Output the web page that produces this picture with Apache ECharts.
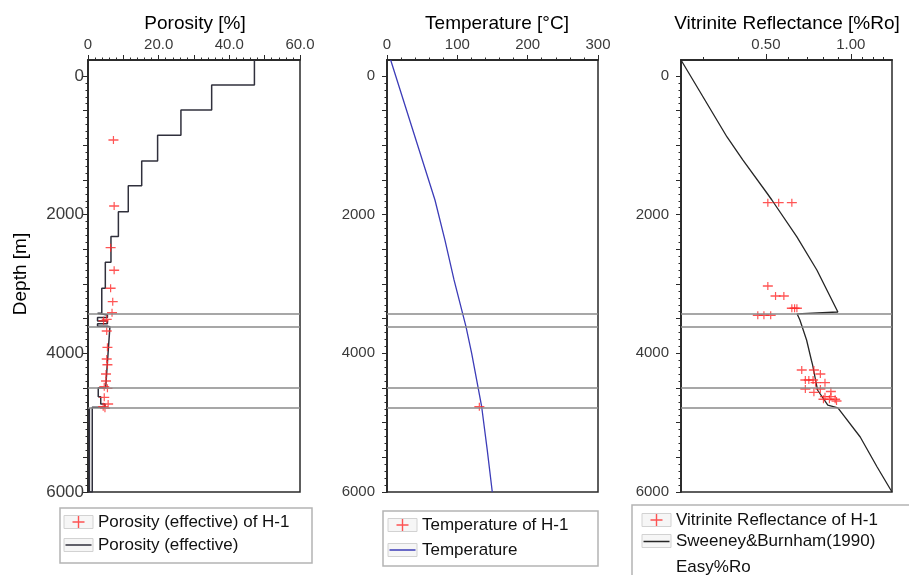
<!DOCTYPE html>
<html><head><meta charset="utf-8">
<script src="https://cdn.jsdelivr.net/npm/echarts@6/dist/echarts.min.js"></script>
<style>html,body{margin:0;padding:0;background:#fff}#c{width:909px;height:575px}</style>
</head><body><div id="c"></div><script>
// ---------- data ----------
const DEPTH_RANGE = [-230, 6000];
const DEPTH_LABELS = [0, 2000, 4000, 6000];
const BOUNDARIES = [3423, 3616, 4496, 4779];

const POR_CURVE_DEPTH = [-230,130,130,490,490,856,856,1226,1226,1582,1582,1957,1957,2317,2317,2687,2687,3062,3062,3423,3423,3447,3447,3485,3485,3533,3533,3572,3572,3610,3610,3616,3616,4496,4496,4625,4625,4730,4730,4779,4779,6000,6000,4790];
const POR_CURVE_VALUE = [47.1,47.1,35.0,35.0,26.3,26.3,19.7,19.7,15.2,15.2,11.4,11.4,8.6,8.6,6.5,6.5,4.9,4.9,3.9,3.9,2.7,2.7,5.5,5.5,2.7,2.7,5.5,5.5,2.7,2.7,5.5,5.5,6.2,5.0,2.9,2.9,3.6,3.6,4.8,4.8,1.2,1.2,0.4,0.4];
const POR_OBS_DEPTH = [923,1875,2476,2803,3062,3255,3414,3510,3530,3678,3914,4082,4164,4298,4399,4483,4505,4635,4731,4770,4793];
const POR_OBS_VALUE = [7.2,7.4,6.4,7.4,6.4,7.0,6.8,5.3,4.4,5.3,5.5,5.3,5.5,5.1,5.1,4.6,5.5,4.6,5.7,4.3,4.8];
const POR_LABELS = [0, 20, 40, 60];

const TEMP_CURVE_DEPTH = [-230,0,1789,2365,2942,3616,4000,4770,5400,6000];
const TEMP_CURVE_VALUE = [5.2,12.4,68.2,82.3,95.3,112.3,120.4,134.6,142.6,149.7];
const TEMP_OBS_DEPTH = [4770];
const TEMP_OBS_VALUE = [131.3];
const TEMP_LABELS = [0, 100, 200, 300];

const VR_CURVE_DEPTH = [-230,880,1212,1688,1789,2322,2798,3404,3430,3519,3808,4100,4168,4529,4746,4788,5207,5640,6000];
const VR_CURVE_VALUE = [0.25,0.364,0.414,0.504,0.525,0.644,0.758,0.90,0.645,0.66,0.697,0.725,0.732,0.762,0.829,0.90,1.08,1.24,1.40];
const VR_OBS_DEPTH = [1827,1827,1827,3029,3173,3173,3351,3351,3351,3452,3452,3452,4240,4240,4298,4385,4385,4385,4423,4423,4515,4515,4563,4550,4625,4625,4663,4663,4663,4688];
const VR_OBS_VALUE = [0.508,0.555,0.618,0.508,0.541,0.579,0.618,0.632,0.644,0.468,0.492,0.52,0.67,0.74,0.78,0.69,0.71,0.735,0.75,0.81,0.69,0.78,0.74,0.85,0.81,0.85,0.80,0.84,0.88,0.89];
const VR_RANGE = [0.25, 1.4];
const VR_TICKS = [0.3,0.4,0.5,0.6,0.7,0.8,0.9,1.0,1.1,1.2,1.3];
const VR_LABELS = [0.5, 1.0];

const NAMES = {
  porObs: 'Porosity (effective) of H-1', por: 'Porosity (effective)',
  tObs: 'Temperature of H-1', t: 'Temperature',
  vrObs: 'Vitrinite Reflectance of H-1', vr: 'Sweeney&Burnham(1990) Easy%Ro'
};

// ---------- helpers ----------
function steps(a, b, s) { const r = []; for (let v = a; v <= b + 1e-9; v += s) r.push(+v.toFixed(6)); return r; }
function zip(vals, depths) { return vals.map((v, i) => [v, depths[i]]); }
const FONT = 'Liberation Sans, Arial, sans-serif';
const AX = '#2a2a2a';
const PLUS = 'path://M0,0L0,0Z M10,8L10,8Z M0,3.3H10V4.7H0Z M4.4,0H5.6V8H4.4Z';
const PLUS_ICON = 'path://M0,0L0,0Z M29,13L29,13Z M8.5,5.8H20.5V7.2H8.5Z M13.8,0.5H15.2V12.5H13.8Z';
const LINE_ICON = 'path://M0,0L0,0Z M29,13L29,13Z M1.5,5.8H27.5V7.3H1.5Z';

const gridBoxes = [[88, 212], [387, 211], [681, 211]];
const grid = gridBoxes.map(g => ({ left: g[0], width: g[1], top: 60, height: 432, show: true, borderColor: AX, borderWidth: 1.5, backgroundColor: '#fff' }));

function topAxis(gi, min, max, tickVals, tickLen, labelVals, fmt) {
  return {
    type: 'value', gridIndex: gi, position: 'top', min: min, max: max,
    axisLine: { show: true, onZero: false, lineStyle: { color: AX, width: 1.5 } },
    axisTick: { show: true, inside: false, length: tickLen, customValues: tickVals, lineStyle: { color: AX, width: 1 } },
    axisLabel: labelVals ? { show: true, customValues: labelVals, formatter: fmt, margin: 8, color: '#3a3a3a', fontSize: 15, fontFamily: FONT } : { show: false },
    splitLine: { show: false }, minorTick: { show: false }
  };
}
function leftAxis(gi, tickVals, tickLen, labelVals, fs, margin) {
  return {
    type: 'value', gridIndex: gi, position: 'left', offset: 0, inverse: true, min: DEPTH_RANGE[0], max: DEPTH_RANGE[1],
    axisLine: { show: true, onZero: false, lineStyle: { color: AX, width: 1.5 } },
    axisTick: { show: true, inside: false, length: tickLen, customValues: tickVals, lineStyle: { color: AX, width: 1 } },
    axisLabel: labelVals ? { show: true, customValues: labelVals, formatter: v => String(v), margin: margin, color: '#3a3a3a', fontSize: fs, fontFamily: FONT } : { show: false },
    splitLine: { show: false }, minorTick: { show: false }
  };
}
const depthMinor = steps(0, 6000, 100), depthMid = steps(0, 6000, 500);
const fmt1 = v => v === 0 ? '0' : v.toFixed(1);
const vrLog = v => Math.log10(v);

const xAxis = [
  topAxis(0, 0, 60, steps(0, 60, 2), 2.5),
  topAxis(0, 0, 60, steps(0, 60, 10), 5, POR_LABELS, fmt1),
  topAxis(1, 0, 300, steps(0, 300, 20), 2.5),
  topAxis(1, 0, 300, TEMP_LABELS, 5, TEMP_LABELS, v => String(v)),
  { type: 'log', gridIndex: 2, min: VR_RANGE[0], max: VR_RANGE[1], logBase: 10, show: false, splitLine: { show: false } },
  topAxis(2, vrLog(VR_RANGE[0]), vrLog(VR_RANGE[1]), VR_TICKS.map(vrLog), 3),
  topAxis(2, vrLog(VR_RANGE[0]), vrLog(VR_RANGE[1]), VR_LABELS.map(vrLog), 6, VR_LABELS.map(vrLog), v => Math.pow(10, v).toFixed(2))
];
const yAxis = [
  leftAxis(0, depthMinor, 2.5), leftAxis(0, depthMid, 5, DEPTH_LABELS, 17, 4),
  leftAxis(1, depthMinor, 2.5), leftAxis(1, depthMid, 5, DEPTH_LABELS, 15, 12),
  leftAxis(2, depthMinor, 2.5), leftAxis(2, depthMid, 5, DEPTH_LABELS, 15, 12)
];

const bounds = {
  silent: true, symbol: ['none', 'none'], label: { show: false },
  lineStyle: { color: '#8a8a8a', width: 1.5, type: 'solid' },
  data: BOUNDARIES.map(d => ({ yAxis: d })), animation: false
};
function lineS(name, xi, yi, data, color, w) {
  return { name: name, type: 'line', xAxisIndex: xi, yAxisIndex: yi, data: data, symbol: 'none', showSymbol: false,
    color: color, lineStyle: { color: color, width: w }, itemStyle: { color: color }, markLine: bounds, z: 3 };
}
function scatS(name, xi, yi, data) {
  return { name: name, type: 'scatter', xAxisIndex: xi, yAxisIndex: yi, data: data, symbol: PLUS, symbolSize: [10, 8],
    color: '#ff2a2a', itemStyle: { color: '#ff2a2a' }, z: 4 };
}
const series = [
  lineS(NAMES.por, 1, 1, zip(POR_CURVE_VALUE, POR_CURVE_DEPTH), '#30303c', 1.5),
  scatS(NAMES.porObs, 1, 1, zip(POR_OBS_VALUE, POR_OBS_DEPTH)),
  lineS(NAMES.t, 3, 3, zip(TEMP_CURVE_VALUE, TEMP_CURVE_DEPTH), '#3c3cb8', 1.3),
  scatS(NAMES.tObs, 3, 3, zip(TEMP_OBS_VALUE, TEMP_OBS_DEPTH)),
  lineS(NAMES.vr, 4, 5, zip(VR_CURVE_VALUE, VR_CURVE_DEPTH), '#262626', 1.3),
  scatS(NAMES.vrObs, 4, 5, zip(VR_OBS_VALUE, VR_OBS_DEPTH))
];

function leg(name, icon, x, rowY, extra) {
  const l = {
    show: true, left: x, top: rowY - 8.5, padding: 0, itemWidth: 29, itemHeight: 13, itemGap: 0,
    selectedMode: false, data: [{ name: name, icon: icon }],
    itemStyle: { borderWidth: 0 }, lineStyle: { width: 0 },
    textStyle: { fontSize: 17, fontFamily: FONT, color: '#111' }, z: 10
  };
  return Object.assign(l, extra || {});
}
const legend = [
  leg(NAMES.porObs, PLUS_ICON, 64, 522), leg(NAMES.por, LINE_ICON, 64, 545),
  leg(NAMES.tObs, PLUS_ICON, 388, 525), leg(NAMES.t, LINE_ICON, 388, 550),
  leg(NAMES.vrObs, PLUS_ICON, 642, 520),
  leg(NAMES.vr, LINE_ICON, 642, 541, {
    top: 541 - 34,
    formatter: () => '{s| }\n{a|Sweeney&Burnham(1990)}\n{a|Easy%Ro}',
    textStyle: { fontSize: 17, fontFamily: FONT, color: '#111',
      rich: { s: { fontSize: 17, fontFamily: FONT, lineHeight: 26 }, a: { fontSize: 17, fontFamily: FONT, color: '#111', lineHeight: 26 } } }
  })
];

function txt(t, x, y, fs, rot) {
  return { type: 'text', x: x, y: y, rotation: rot || 0, z: 5,
    style: { text: t, fontSize: fs, fontFamily: FONT, fill: '#000', align: 'center', verticalAlign: 'middle', textAlign: 'center', textVerticalAlign: 'middle' } };
}
function frame(x, y, w, h) {
  return { type: 'rect', shape: { x: x, y: y, width: w, height: h }, z: 1,
    style: { fill: '#fff', stroke: '#b4b4b4', lineWidth: 1.5 } };
}
function iconFrame(x, cy) {
  return { type: 'rect', shape: { x: x, y: cy - 6.5, width: 29, height: 13 }, z: 2,
    style: { fill: '#f6f6f6', stroke: '#d2d2d2', lineWidth: 1 } };
}
const graphic = [
  frame(60, 508, 252, 55), frame(383, 511, 215, 55), frame(632, 505, 280, 80),
  iconFrame(64, 522), iconFrame(64, 545), iconFrame(388, 525), iconFrame(388, 550), iconFrame(642, 520), iconFrame(642, 541),
  txt('Porosity [%]', 195, 24, 19), txt('Temperature [°C]', 497, 24, 19), txt('Vitrinite Reflectance [%Ro]', 787, 24, 19),
  txt('Depth [m]', 21, 274, 19, Math.PI / 2)
];

const chart = echarts.init(document.getElementById('c'), null, { renderer: 'canvas' });
chart.setOption({ animation: false, backgroundColor: '#fff', grid: grid, xAxis: xAxis, yAxis: yAxis, series: series, legend: legend, graphic: graphic });
</script></body></html>
